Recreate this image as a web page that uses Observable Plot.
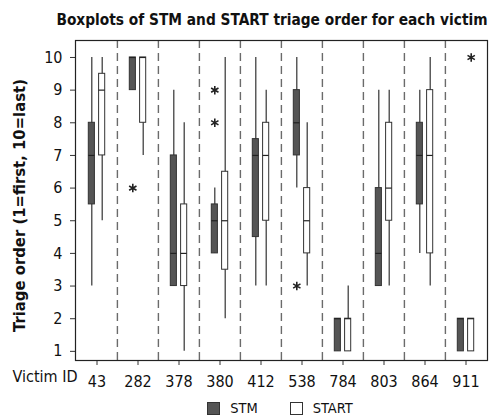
<!DOCTYPE html>
<html><head><meta charset="utf-8">
<script src="https://cdn.jsdelivr.net/npm/d3@7"></script>
<script src="https://cdn.jsdelivr.net/npm/@observablehq/plot@0.6"></script>
<style>
  body { margin: 0; background: #fff; font-family: "DejaVu Sans Condensed", "DejaVu Sans", sans-serif; font-stretch: condensed; color: #111; }
  #wrap { width: 494px; height: 416px; position: relative; overflow: hidden; }
  #title { height: 32px; box-sizing: border-box; padding-top: 11px; line-height: 18px; font-size: 15.3px; font-weight: bold; text-align: center; padding-left: 50px; }
  #legend { height: 24px; box-sizing: border-box; padding-top: 8px; line-height: 18px; font-size: 14.5px; display: flex; justify-content: center; padding-left: 66px; }
  .item { display: flex; align-items: center; margin: 0 16px; }
  .sw { width: 13px; height: 13px; box-sizing: border-box; border: 1px solid #333; margin-right: 10px; }
</style>
</head><body>
<div id="wrap">
  <div id="title">Boxplots of STM and START triage order for each victim</div>
  <div id="chart"></div>
  <div id="legend"></div>
</div>
<script>
const victims = ["43","282","378","380","412","538","784","803","864","911"];
const seriesNames = ["STM", "START"];
const seriesColors = ["#555555", "#ffffff"];

// STM statistics per victim
const stmMin = [3, 9, 3, 4, 3, 6, 1, 3, 4, 1];
const stmQ1  = [5.5, 9, 3, 4, 4.5, 7, 1, 3, 5.5, 1];
const stmMed = [7, 10, 4, 5, 7, 8, 2, 4, 7, 2];
const stmQ3  = [8, 10, 7, 5.5, 7.5, 9, 2, 6, 8, 2];
const stmMax = [10, 10, 9, 6, 10, 10, 2, 9, 9, 2];

// START statistics per victim
const startMin = [5, 7, 1, 2, 3, 3, 1, 3, 3, 1];
const startQ1  = [7, 8, 3, 3.5, 5, 4, 1, 5, 4, 1];
const startMed = [9, 10, 4, 5, 7, 5, 2, 6, 7, 2];
const startQ3  = [9.5, 10, 5.5, 6.5, 8, 6, 2, 8, 9, 2];
const startMax = [10, 10, 8, 10, 9, 8, 3, 9, 10, 2];

// Outliers
const outVictim = ["282", "380", "380", "538", "911"];
const outSeries = ["STM", "STM", "STM", "STM", "START"];
const outValue  = [6, 9, 8, 3, 10];

const yTicks = [1,2,3,4,5,6,7,8,9,10];
const yLabel = "Triage order (1=first, 10=last)";
const xLabel = "Victim ID";

const W = 494, ML = 75, MR = 7;
const bw = (W - ML - MR) / victims.length;
const half = bw / 2;

const stats = [];
victims.forEach((v, i) => {
  stats.push({victim: v, series: "STM", lo: stmMin[i], q1: stmQ1[i], med: stmMed[i], q3: stmQ3[i], hi: stmMax[i]});
  stats.push({victim: v, series: "START", lo: startMin[i], q1: startQ1[i], med: startMed[i], q3: startQ3[i], hi: startMax[i]});
});
const stm = stats.filter(d => d.series === "STM");
const start = stats.filter(d => d.series === "START");
const outliers = outVictim.map((v, i) => ({victim: v, series: outSeries[i], value: outValue[i]}));

const boxInner = 2, boxOuter = 8.3, off = 5.2;
const font = '"DejaVu Sans Condensed", "DejaVu Sans", sans-serif';

const chart = Plot.plot({
  width: W, height: 360,
  marginLeft: ML, marginRight: MR, marginTop: 8, marginBottom: 32,
  style: {fontFamily: font, fontSize: "16px", color: "#111", background: "#fff", overflow: "visible"},
  x: {type: "band", domain: victims, padding: 0, label: null},
  y: {domain: [0.72, 10.52], label: null},
  marks: [
    Plot.ruleX(victims.slice(1), {x: d => d, dx: -half, stroke: "#6b6b6b", strokeWidth: 1.4, strokeDasharray: "8,5"}),
    Plot.ruleX(stm, {x: "victim", y1: "lo", y2: "hi", dx: -off, stroke: "#333", strokeWidth: 1.2}),
    Plot.ruleX(start, {x: "victim", y1: "lo", y2: "hi", dx: off, stroke: "#333", strokeWidth: 1.2}),
    Plot.barY(stm, {x: "victim", y1: "q1", y2: "q3", fill: seriesColors[0], stroke: "#333", strokeWidth: 1, insetLeft: half - boxOuter, insetRight: half + boxInner}),
    Plot.barY(start, {x: "victim", y1: "q1", y2: "q3", fill: seriesColors[1], stroke: "#333", strokeWidth: 1, insetLeft: half + boxInner, insetRight: half - boxOuter}),
    Plot.tickY(stm, {x: "victim", y: "med", stroke: "#222", strokeWidth: 1.2, insetLeft: half - boxOuter, insetRight: half + boxInner}),
    Plot.tickY(start, {x: "victim", y: "med", stroke: "#222", strokeWidth: 1.2, insetLeft: half + boxInner, insetRight: half - boxOuter}),
    Plot.dot(outliers.filter(d => d.series === "STM"), {x: "victim", y: "value", dx: -off, symbol: "asterisk", r: 4, stroke: "#222", strokeWidth: 1.6}),
    Plot.dot(outliers.filter(d => d.series === "START"), {x: "victim", y: "value", dx: off, symbol: "asterisk", r: 4, stroke: "#222", strokeWidth: 1.6}),
    Plot.axisY({ticks: yTicks, tickSize: 5, tickPadding: 8, label: null, fontSize: 16, stroke: "#333"}),
    Plot.axisX({tickSize: 5, tickPadding: 10, label: null, fontSize: 16, stroke: "#333"}),
    Plot.frame({stroke: "#222", strokeWidth: 1.2}),
    Plot.text([yLabel], {frameAnchor: "left", textAnchor: "middle", lineAnchor: "middle", rotate: -90, dx: -56, dy: 5, fontSize: 16.5, fontWeight: "bold", fill: "#111"}),
    Plot.text([xLabel], {frameAnchor: "bottom-left", textAnchor: "start", dx: -63, dy: 21, fontSize: 16, fill: "#111"})
  ]
});
document.getElementById("chart").appendChild(chart);

const legend = document.getElementById("legend");
seriesNames.forEach((name, i) => {
  const item = document.createElement("div");
  item.className = "item";
  const sw = document.createElement("span");
  sw.className = "sw";
  sw.style.background = seriesColors[i];
  item.appendChild(sw);
  const t = document.createElement("span");
  t.textContent = name;
  item.appendChild(t);
  legend.appendChild(item);
});
</script>
</body></html>
